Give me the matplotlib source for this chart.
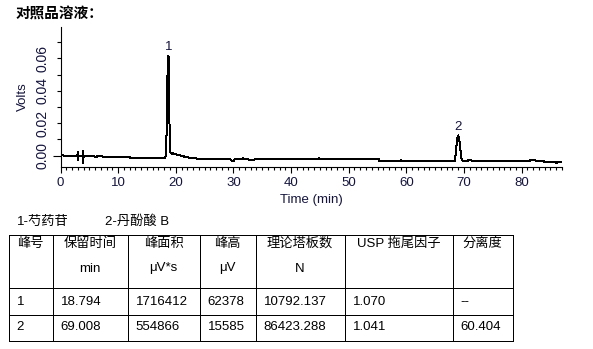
import matplotlib
matplotlib.use('Agg')
import matplotlib.pyplot as plt
from matplotlib.ticker import MultipleLocator, FixedLocator

# ---------------- data ----------------
time_min = [0.0, 0.5, 0.6, 2.9, 3.0, 3.05, 3.1, 3.85, 3.9, 3.95, 4.0, 5.8, 5.9, 6.3, 6.4,
            7.2, 7.3, 12.0, 12.1, 18.1, 18.28, 18.40, 18.57, 18.70, 18.78, 18.85, 18.92,
            19.03, 19.09, 19.3, 19.55, 20.0, 20.7, 21.9, 23.5, 23.7, 29.5, 29.6, 30.1, 30.2,
            31.6, 31.7, 31.9, 32.6, 32.7, 33.6, 33.7, 44.6, 44.8, 45.0, 55.2, 55.3, 58.9,
            59.1, 59.3, 68.3, 68.45, 68.7, 68.85, 69.0, 69.15, 69.27, 69.56, 69.8, 70.6,
            70.7, 71.3, 71.4, 81.4, 81.5, 82.4, 82.5, 83.9, 84.0, 85.9, 86.0, 86.2, 87.0]
volts = [0.0004, 0.0004, -0.0002, -0.0002, 0.0020, -0.0026, -0.0002, -0.0002, 0.0030, -0.0045,
         -0.0002, -0.0002, -0.0007, -0.0007, -0.0002, -0.0002, -0.0008, -0.0008, -0.0016,
         -0.0016, 0.0004, 0.0138, 0.0508, 0.0617, 0.0600, 0.0575, 0.0128, 0.0066, 0.0015,
         0.0012, 0.0014, 0.0008, 0.0002, -0.0010, -0.0016, -0.0022, -0.0022, -0.0030, -0.0030,
         -0.0022, -0.0022, -0.0016, -0.0022, -0.0022, -0.0028, -0.0028, -0.0022, -0.0022,
         -0.0016, -0.0022, -0.0022, -0.0035, -0.0035, -0.0028, -0.0035, -0.0035, -0.0030,
         0.0066, 0.0110, 0.0125, 0.0110, 0.0066, -0.0016, -0.0035, -0.0035, -0.0028, -0.0028,
         -0.0035, -0.0035, -0.0028, -0.0028, -0.0035, -0.0035, -0.0041, -0.0041, -0.0048,
         -0.0041, -0.0041]

peak_ids = ['1', '2']
peak_rt = [18.794, 69.008]

x_ticks = [0, 10, 20, 30, 40, 50, 60, 70, 80]
y_ticks = [0.00, 0.02, 0.04, 0.06]
y_tick_labels = ['0.00', '0.02', '0.04', '0.06']

title_text = '对照品溶液：'
legend_items = ['1-芍药苷', '2-丹酚酸 B']

header_line1 = ['峰号', '保留时间', '峰面积', '峰高', '理论塔板数', 'USP 拖尾因子', '分离度']
header_line2 = ['', 'min', 'μV*s', 'μV', 'N', '', '']
row_peak = ['1', '2']
row_rt = ['18.794', '69.008']
row_area = ['1716412', '554866']
row_height = ['62378', '15585']
row_plates = ['10792.137', '86423.288']
row_tailing = ['1.070', '1.041']
row_resolution = ['--', '60.404']

# ---------------- figure ----------------
W, H = 593, 349
fig = plt.figure(figsize=(W / 100, H / 100), dpi=100)
fig.patch.set_facecolor('white')

LAT = ['Liberation Sans', 'Noto Sans CJK SC', 'DejaVu Sans']
CJK = ['Noto Sans CJK SC', 'Liberation Sans', 'DejaVu Sans']
axcol = '#14143c'
FS = 9.5

# overlay in pixel coordinates for title, legend and table
tab = fig.add_axes([0, 0, 1, 1])
tab.set_xlim(0, W)
tab.set_ylim(H, 0)
tab.axis('off')
tab.patch.set_visible(False)

tab.text(16, 13.5, title_text, family=CJK, weight='bold', fontsize=10.5,
         ha='left', va='center', color='black')

tab.text(17, 225, legend_items[0], family=LAT, fontsize=FS, ha='left', va='baseline', color='black')
tab.text(105, 225, legend_items[1], family=LAT, fontsize=FS, ha='left', va='baseline', color='black')

col_edges = [8.5, 52.5, 127.5, 199.5, 255.5, 344.5, 452.5, 512.5]
row_edges = [234.5, 287.5, 314.5, 340.5]
tab.hlines(row_edges, col_edges[0], col_edges[-1], colors='black', lw=0.7, antialiased=False)
tab.vlines(col_edges, row_edges[0], row_edges[-1], colors='black', lw=0.7, antialiased=False)

for i in range(len(header_line1)):
    cx = (col_edges[i] + col_edges[i + 1]) / 2
    tab.text(cx, 243.5, header_line1[i], family=LAT, fontsize=FS, ha='center', va='center', color='black')
    if header_line2[i]:
        tab.text(cx, 271.5, header_line2[i], family=LAT, fontsize=FS, ha='center', va='baseline', color='black')

columns = [row_peak, row_rt, row_area, row_height, row_plates, row_tailing, row_resolution]
row_baselines = [305, 330.5]
for c, col in enumerate(columns):
    for r, val in enumerate(col):
        tab.text(col_edges[c] + 8, row_baselines[r], val, family=LAT, fontsize=FS,
                 ha='left', va='baseline', color='black')

# chromatogram axes
x0, x1 = 60.5, 562.0
ytop, ybot = 27.0, 167.0
ax = fig.add_axes([x0 / W, 1 - ybot / H, (x1 - x0) / W, (ybot - ytop) / H])
ax.patch.set_visible(False)
ax.plot(time_min, volts, color='black', lw=0.72, antialiased=False)
ax.set_xlim(0, 87.0)
ax.set_ylim(-0.0070, 0.0794)

for s in ['top', 'right']:
    ax.spines[s].set_visible(False)
for s in ['left', 'bottom']:
    ax.spines[s].set_linewidth(0.8)
    ax.spines[s].set_color('black')

ax.xaxis.set_major_locator(FixedLocator(x_ticks))
ax.xaxis.set_minor_locator(MultipleLocator(1))
ax.set_xticklabels([str(v) for v in x_ticks], family=LAT, fontsize=FS, color=axcol)
ax.tick_params(axis='x', which='major', direction='out', length=4.5, width=0.8, pad=3, color='black')
ax.tick_params(axis='x', which='minor', direction='out', length=2.2, width=0.8, color='black')

ax.yaxis.set_major_locator(FixedLocator(y_ticks))
ax.yaxis.set_minor_locator(FixedLocator([0.01, 0.03, 0.05, 0.07]))
ax.set_yticklabels(y_tick_labels, family=LAT, fontsize=10, color=axcol, rotation=90, va='center')
ax.tick_params(axis='y', which='both', direction='out', length=3, width=0.8, pad=5, color='black')
ax.yaxis.get_major_ticks()[0].tick1line.set_markersize(6)

ax.set_xlabel('Time (min)', family=LAT, fontsize=FS, color=axcol, labelpad=3.5)
ax.set_ylabel('Volts', family=LAT, fontsize=FS, color=axcol, labelpad=4.5)

for pid, rt in zip(peak_ids, peak_rt):
    apex = max(v for t, v in zip(time_min, volts) if abs(t - rt) < 0.6)
    ax.annotate(pid, xy=(rt, apex), xytext=(0, 4), textcoords='offset points',
                ha='center', va='baseline', family=LAT, fontsize=FS, color=axcol)

fig.savefig('out.png', dpi=100)
